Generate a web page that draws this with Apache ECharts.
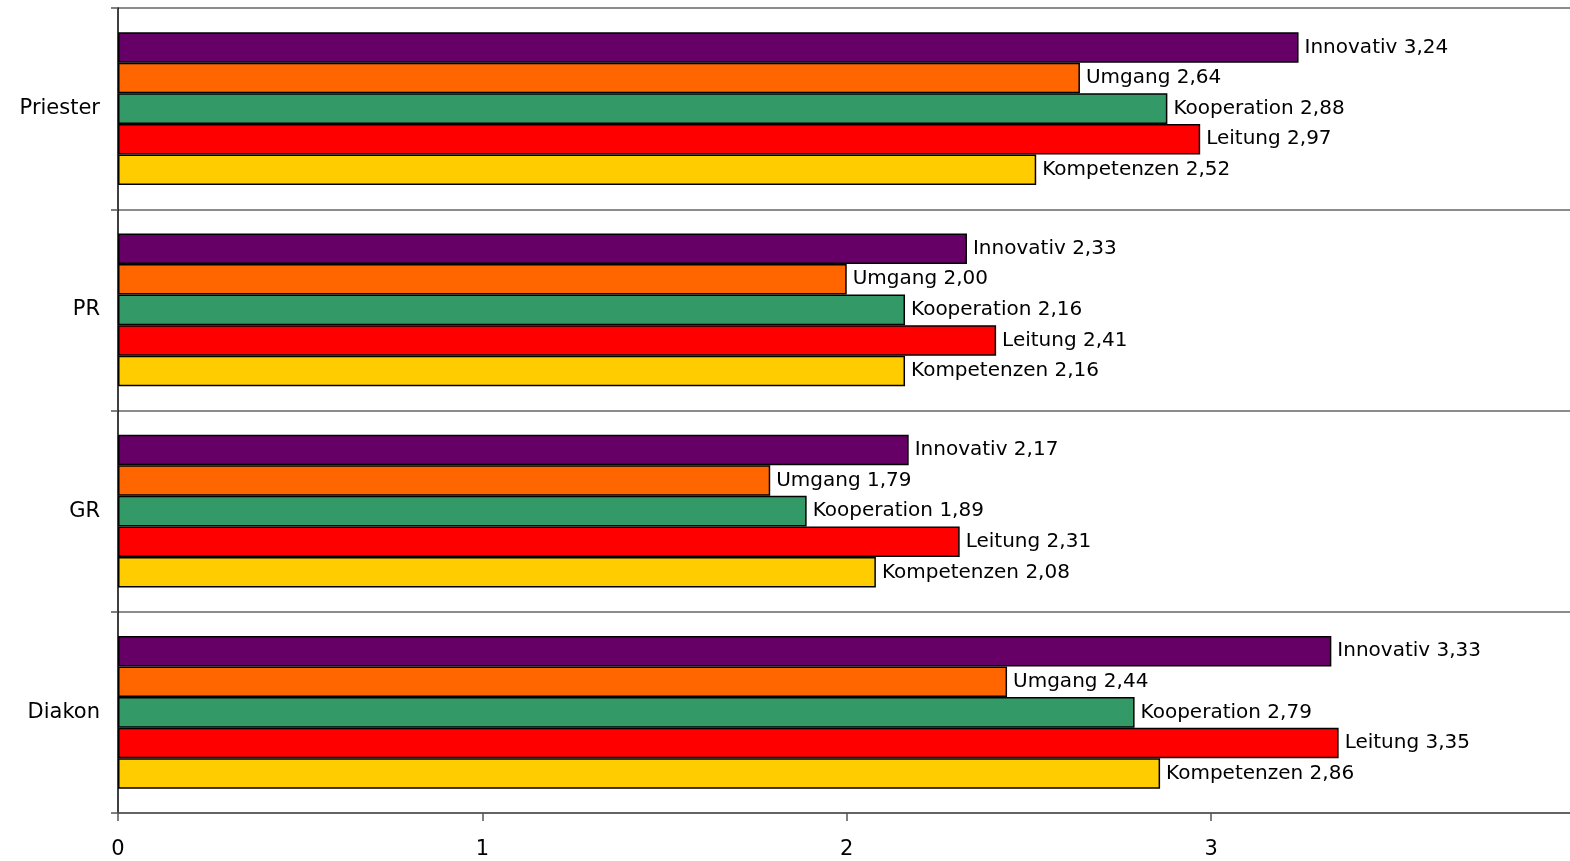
<!DOCTYPE html>
<html>
<head>
<meta charset="utf-8">
<script src="https://cdn.jsdelivr.net/npm/echarts@6/dist/echarts.min.js"></script>
<style>
  html, body { margin: 0; padding: 0; background: #fff; }
  #chart { width: 1570px; height: 861px; }
</style>
</head>
<body>
<div id="chart"></div>
<script>
var groups = ['Priester', 'PR', 'GR', 'Diakon'];
var seriesNames = ['Innovativ', 'Umgang', 'Kooperation', 'Leitung', 'Kompetenzen'];
var colors = ['#660066', '#FF6600', '#339966', '#FF0000', '#FFCC00'];

var innovativ   = [3.24, 2.33, 2.17, 3.33];
var umgang      = [2.64, 2.00, 1.79, 2.44];
var kooperation = [2.88, 2.16, 1.89, 2.79];
var leitung     = [2.97, 2.41, 2.31, 3.35];
var kompetenzen = [2.52, 2.16, 2.08, 2.86];

var xTicks = [0, 1, 2, 3];

var values = [innovativ, umgang, kooperation, leitung, kompetenzen];
var font = '"DejaVu Sans", Verdana, sans-serif';

/* Number with German decimal comma. */
function formatValue(v)
{
    return v.toFixed(2).replace('.', ',');
}

var series = seriesNames.map(function(name, index)
{
    return {
        name: name,
        type: 'bar',
        data: values[index],
        barGap: '0%',
        barCategoryGap: '24%',
        itemStyle: {color: colors[index], borderColor: '#000', borderWidth: 1.5},
        label: {
            show: true,
            position: 'right',
            distance: 6,
            color: '#000',
            fontFamily: font,
            fontSize: 20,
            formatter: function(p) { return p.seriesName + ' ' + formatValue(p.value); }
        }
    };
});

var chart = echarts.init(document.getElementById('chart'));
chart.setOption({
    animation: false,
    /* The original axis runs out of the picture just before 4. */
    grid: {left: 118, top: 8, bottom: 48, right: 0},
    xAxis: {
        type: 'value',
        min: 0,
        max: 3.985,
        interval: 1,
        axisLine: {show: true, lineStyle: {color: '#555', width: 1.5}},
        axisTick: {show: true, length: 8, lineStyle: {color: '#555', width: 1.5}},
        splitLine: {show: false},
        axisLabel: {
            margin: 26,
            color: '#000',
            fontFamily: font,
            fontSize: 21,
            showMaxLabel: false,
            formatter: function(v) { return xTicks.indexOf(v) >= 0 ? String(v) : ''; }
        }
    },
    yAxis: {
        type: 'category',
        data: groups,
        inverse: true,
        axisLine: {show: true, lineStyle: {color: '#000', width: 1.5}},
        axisTick: {show: true, length: 7, lineStyle: {color: '#555', width: 1.5}},
        splitLine: {show: true, lineStyle: {color: '#666', width: 1.5}},
        axisLabel: {margin: 18, color: '#000', fontFamily: font, fontSize: 21}
    },
    series: series
});
</script>
</body>
</html>
